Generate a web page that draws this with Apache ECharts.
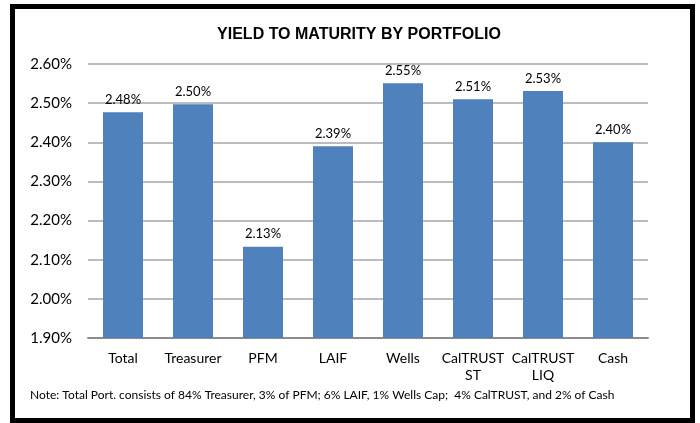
<!DOCTYPE html>
<html>
<head>
<meta charset="utf-8">
<script src="https://cdn.jsdelivr.net/npm/echarts@6/dist/echarts.min.js"></script>
<style>
html,body{margin:0;padding:0;background:#fff;}
#c{width:700px;height:423px;}
</style>
</head>
<body>
<div id="c"></div>
<script>
var categories = ['Total', 'Treasurer', 'PFM', 'LAIF', 'Wells', 'CalTRUST\nST', 'CalTRUST\nLIQ', 'Cash'];
var yieldValues = [2.477, 2.497, 2.133, 2.39, 2.551, 2.51, 2.531, 2.40];
var titleText = 'YIELD TO MATURITY BY PORTFOLIO';
var noteText = 'Note: Total Port. consists of 84% Treasurer, 3% of PFM; 6% LAIF, 1% Wells Cap;  4% CalTRUST, and 2% of Cash';

var chart = echarts.init(document.getElementById('c'), null, {renderer: 'canvas'});
var FONT = 'Lato';
chart.setOption({
  animation: false,
  backgroundColor: '#fff',
  title: {
    text: titleText,
    left: 354,
    textAlign: 'center',
    top: 22,
    textStyle: {fontFamily: 'Liberation Sans', fontWeight: 'bold', fontSize: 16, color: '#000'}
  },
  grid: {left: 88, right: 52, top: 64, bottom: 85, containLabel: false},
  xAxis: {
    type: 'category',
    data: categories,
    axisLine: {lineStyle: {color: '#8c8c8c', width: 2}},
    axisTick: {show: false},
    axisLabel: {interval: 0, hideOverlap: false, fontFamily: FONT, fontSize: 14, color: '#000', margin: 12, lineHeight: 17}
  },
  yAxis: {
    type: 'value',
    min: 1.9,
    max: 2.6,
    interval: 0.1,
    axisLine: {show: false},
    axisTick: {show: false},
    splitLine: {lineStyle: {color: '#a6a6a6', width: 1.5}},
    axisLabel: {
      fontFamily: FONT, fontSize: 15, color: '#000', margin: 16,
      formatter: function (v) { return v.toFixed(2) + '%'; }
    }
  },
  series: [{
    type: 'bar',
    data: yieldValues,
    barWidth: 40,
    itemStyle: {color: '#4f81bd'},
    label: {
      show: true,
      position: 'top',
      distance: 6,
      fontFamily: FONT,
      fontSize: 13,
      color: '#000',
      formatter: function (p) { return p.value.toFixed(2) + '%'; }
    }
  }],
  graphic: [
    {type: 'rect', shape: {x: 12.5, y: 6.5, width: 680, height: 414}, style: {fill: 'none', stroke: '#000', lineWidth: 5}, z: 100},
    {type: 'text', left: 30, top: 389, style: {text: noteText, fontFamily: FONT, fontSize: 12, fill: '#000'}}
  ]
});
</script>
</body>
</html>
